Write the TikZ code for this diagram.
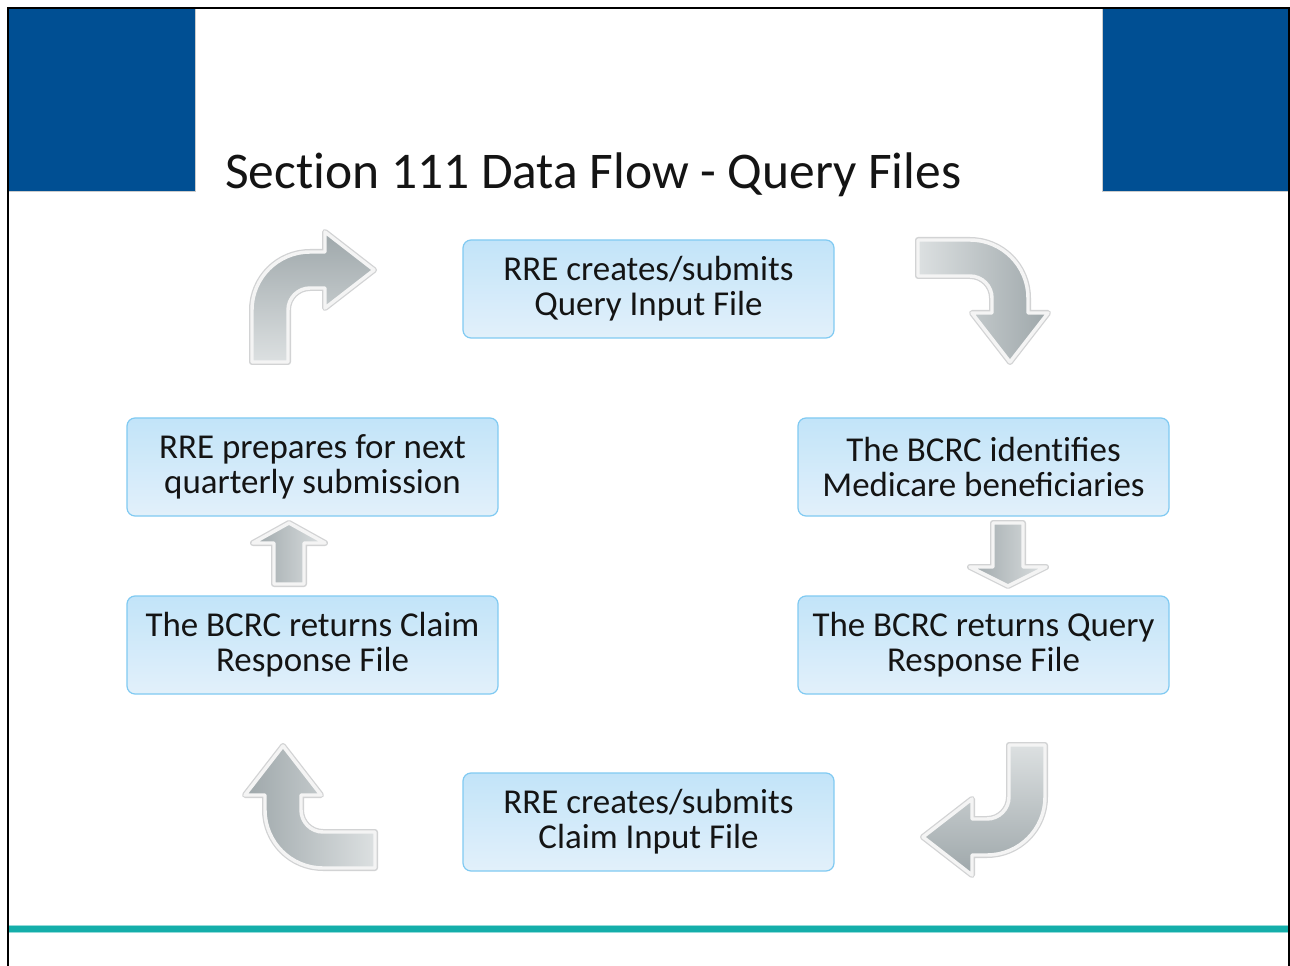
\documentclass[tikz,border=0pt]{standalone}
\usepackage{fontspec}
\setmainfont{Carlito}
\definecolor{blockblue}{RGB}{0,79,147}
\definecolor{tealline}{RGB}{20,174,170}
\definecolor{boxborder}{RGB}{128,202,242}
\definecolor{boxtop}{RGB}{194,228,249}
\definecolor{boxmid}{RGB}{236,245,251}
\definecolor{boxbot}{RGB}{226,240,250}
\definecolor{arrdark}{RGB}{158,167,170}
\definecolor{arrlight}{RGB}{220,224,225}
\definecolor{arredge}{RGB}{210,211,212}
\definecolor{arrwhite}{RGB}{244,244,244}
\definecolor{txt}{RGB}{20,20,20}
\newcommand\bentpath{(0,-18) -- (52,-18) arc[start angle=-90, end angle=0, radius=58] -- (110,55) -- (130,55) -- (92,104) -- (54,55) -- (74,55) -- (74,40) arc[start angle=0, end angle=-90, radius=22] -- (0,18) -- cycle}
\tikzset{
  stepbox/.style={rounded corners=6pt, draw=boxborder, line width=0.9pt,
    top color=boxtop, middle color=boxmid, bottom color=boxbot,
    minimum width=278.25pt, minimum height=73.5pt, align=center, inner sep=0pt,
    text=txt, font=\fontsize{26.2}{26.25}\selectfont},
  arrowedge/.style={draw=arredge, line width=4.5pt, line join=round},
  arrowbody/.style={draw=arrwhite, line width=2.6pt, line join=round},
}
\begin{document}
\begin{tikzpicture}[x=0.75pt,y=-0.75pt]
\useasboundingbox (0,0) rectangle (1290,966);
\fill[white] (0,0) rectangle (1290,966);
% header blocks
\fill[blockblue] (8,8) rectangle (195,191);
\draw[black!20, line width=0.75pt] (195.5,8) -- (195.5,191.5) -- (8,191.5);
\fill[blockblue] (1103,8) rectangle (1289,191);
\draw[black!20, line width=0.75pt] (1102.5,8) -- (1102.5,191.5) -- (1289,191.5);
% frame
\draw[black, line width=1.2pt] (8,966) -- (8,8) -- (1289,8) -- (1289,966);
% bottom rule
\draw[tealline!45, line width=5.5pt] (9,929) -- (1288,929);
\draw[tealline, line width=4pt] (9,929) -- (1288,929);
% title
\node[anchor=base west, inner sep=0pt, text=txt, font=\fontsize{38.6}{40}\selectfont] (title) at (225,189) {Sect\kern0pt ion 111 Data Flow - Query Files};
% boxes
\node[stepbox] (qin) at (648.5,289) {RRE creates/submits\\Query Input File};
\node[stepbox] (prep) at (312.5,467) {RRE prepares for next\\quarterly submission};
\node[stepbox] (ident) at (983.5,467) {The BCRC ident\kern0pt ifies\\Medicare beneficiaries};
\node[stepbox] (cresp) at (312.5,645) {The BCRC returns Claim\\Response File};
\node[stepbox] (qresp) at (983.5,645) {The BCRC returns Query\\Response File};
\node[stepbox] (cin) at (648.5,822) {RRE creates/submits\\Claim Input File};
% bent arrows
\begin{scope}[shift={(918,258)}]
  \path[arrowedge] \bentpath;
  \path[arrowbody, left color=arrlight, right color=arrdark] \bentpath;
\end{scope}
\begin{scope}[shift={(270,362)}, rotate=90]
  \path[arrowedge] \bentpath;
  \path[arrowbody, top color=arrdark, bottom color=arrlight] \bentpath;
\end{scope}
\begin{scope}[shift={(1027,745)}, rotate=-90]
  \path[arrowedge] \bentpath;
  \path[arrowbody, top color=arrlight, bottom color=arrdark] \bentpath;
\end{scope}
\begin{scope}[shift={(375,850)}, rotate=180]
  \path[arrowedge] \bentpath;
  \path[arrowbody, left color=arrdark, right color=arrlight] \bentpath;
\end{scope}
% small straight arrows
\path[arrowedge] (274,584) -- (304,584) -- (304,543) -- (325,543) -- (289,523) -- (253,543) -- (274,543) -- cycle;
\path[arrowbody, left color=arrdark, right color=arrlight] (274,584) -- (304,584) -- (304,543) -- (325,543) -- (289,523) -- (253,543) -- (274,543) -- cycle;
\path[arrowedge] (993,523) -- (1023,523) -- (1023,567) -- (1046,567) -- (1008,586) -- (970,567) -- (993,567) -- cycle;
\path[arrowbody, left color=arrdark, right color=arrlight] (993,523) -- (1023,523) -- (1023,567) -- (1046,567) -- (1008,586) -- (970,567) -- (993,567) -- cycle;
\end{tikzpicture}
\end{document}
